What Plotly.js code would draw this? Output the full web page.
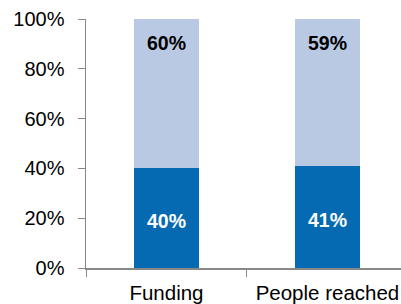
<!DOCTYPE html>
<html><head><meta charset="utf-8">
<script src="https://cdn.plot.ly/plotly-3.0.1.min.js"></script>
<style>html,body{margin:0;padding:0;background:#fff;}#chart{width:401px;height:304px;}</style>
</head><body><div id="chart"></div>
<script>
const categories = ["Funding", "People reached"];
const lowerValues = [0.40, 0.41];
const upperValues = [0.60, 0.59];
const lowerLabels = ["40%", "41%"];
const upperLabels = ["60%", "59%"];

const font = "Arial, 'Liberation Sans', sans-serif";
const traces = [
  {type:'bar', x:categories, y:lowerValues, marker:{color:'#066ab3'}, width:0.404, hoverinfo:'none'},
  {type:'bar', x:categories, y:upperValues, marker:{color:'#b9c9e3'}, width:0.404, hoverinfo:'none'}
];
const annotations = [];
categories.forEach((c, i) => {
  annotations.push({x:c, y:lowerValues[i] / 2, xref:'x', yref:'y', text:'<b>' + lowerLabels[i] + '</b>', showarrow:false,
    yshift:-3, font:{family:font, size:19.5, color:'#ffffff'}});
  annotations.push({x:c, y:lowerValues[i] + upperValues[i], xref:'x', yref:'y', text:'<b>' + upperLabels[i] + '</b>', showarrow:false,
    yshift:-24, font:{family:font, size:19.5, color:'#000000'}});
});
const layout = {
  width:401, height:304, barmode:'stack', showlegend:false,
  margin:{l:86, r:0, t:19, b:36},
  paper_bgcolor:'#fff', plot_bgcolor:'#fff',
  font:{family:font, size:20, color:'#000'},
  annotations: annotations,
  xaxis:{range:[-0.5, 1.457], showline:true, linecolor:'#888', linewidth:1.5, ticks:'outside', ticklen:7, tickcolor:'#888',
         tickson:'boundaries', showgrid:false, zeroline:false, tickfont:{size:20.5, color:'#000'}, ticklabelstandoff:6, fixedrange:true},
  yaxis:{range:[0,1], dtick:0.2, tickformat:'.0%', showline:true, linecolor:'#888', linewidth:1.5, ticks:'outside', ticklen:7,
         tickcolor:'#888', showgrid:false, zeroline:false, tickfont:{size:20, color:'#000'}, ticklabelstandoff:9, fixedrange:true}
};
Plotly.newPlot('chart', traces, layout, {staticPlot:true, displayModeBar:false});
</script></body></html>
